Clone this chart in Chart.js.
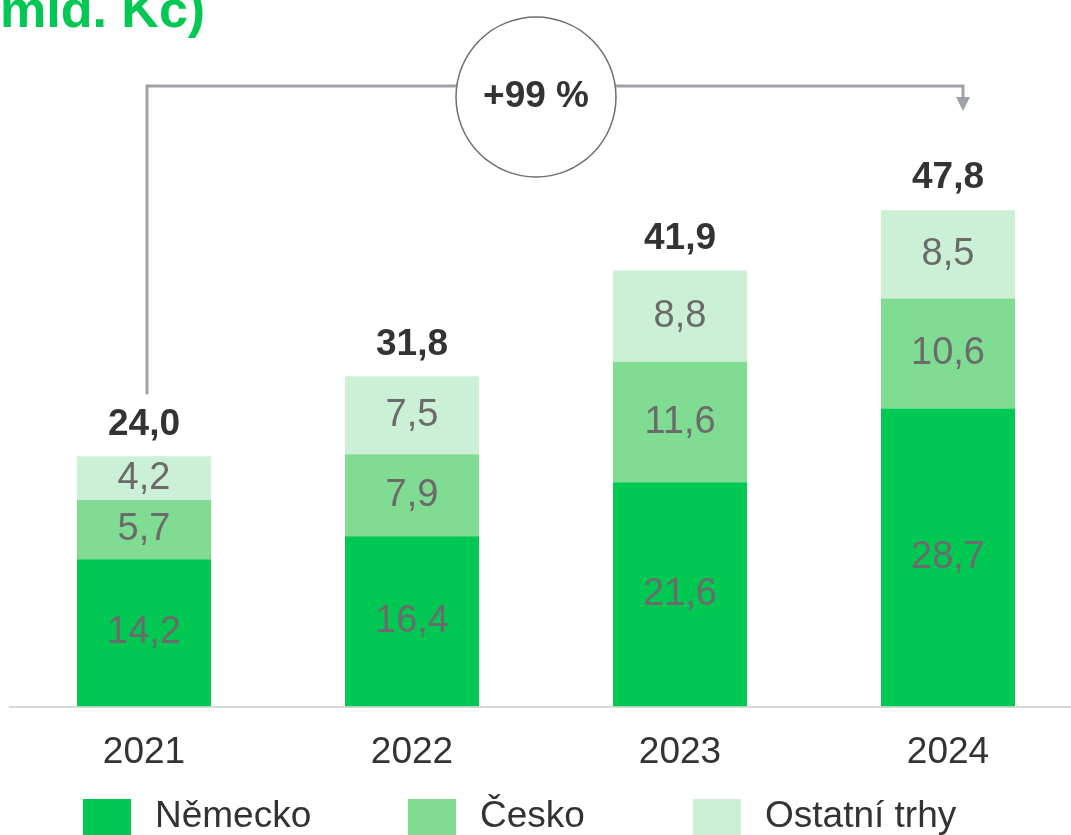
<!DOCTYPE html>
<html>
<head>
<meta charset="utf-8">
<script src="https://cdn.jsdelivr.net/npm/chart.js@4.4.1/dist/chart.umd.min.js"></script>
<style>
  html, body { margin: 0; padding: 0; width: 1071px; height: 835px; overflow: hidden; background: #fff; }
  #title { position: absolute; left: 0; top: -17px; font-family: "Liberation Sans", Arial, sans-serif; font-weight: bold; font-size: 52px; line-height: 52px; color: #00C853; white-space: nowrap; }
  #c { position: absolute; left: 0; top: 0; }
</style>
</head>
<body>
<div id="title">mld. Kc)</div>
<canvas id="c" width="1092" height="835"></canvas>
<script>
// ---- data ----
const categories = ["2021", "2022", "2023", "2024"];
const seriesNames = ["Německo", "Česko", "Ostatní trhy"];
const nemecko = [14.2, 16.4, 21.6, 28.7];
const cesko = [5.7, 7.9, 11.6, 10.6];
const ostatni = [4.2, 7.5, 8.8, 8.5];
const totals = [24.0, 31.8, 41.9, 47.8];
const growthLabel = "+99 %";

// ---- styles ----
const colors = ["#00C853", "#80DC93", "#CCF0D5"];
const FONT = '"Liberation Sans", Arial, sans-serif';
const legendX = [83, 408, 693];

const fmt = v => v.toFixed(1).replace('.', ',');

const labelsPlugin = {
  id: 'valueLabels',
  afterDatasetsDraw(chart) {
    const ctx = chart.ctx;
    ctx.save();
    ctx.textAlign = 'center';
    ctx.textBaseline = 'middle';
    chart.data.datasets.forEach((ds, di) => {
      const meta = chart.getDatasetMeta(di);
      meta.data.forEach((bar, i) => {
        const yMid = (bar.y + bar.base) / 2;
        ctx.font = '38px ' + FONT;
        ctx.fillStyle = '#6B6B6B';
        ctx.fillText(fmt(ds.data[i]), bar.x, yMid);
      });
    });
    const yS = chart.scales.y, xS = chart.scales.x;
    ctx.font = 'bold 37px ' + FONT;
    ctx.fillStyle = '#333333';
    totals.forEach((t, i) => {
      const sum = nemecko[i] + cesko[i] + ostatni[i];
      ctx.fillText(fmt(t), xS.getPixelForValue(i), yS.getPixelForValue(sum) - 32);
    });
    ctx.restore();
  }
};

const annotationPlugin = {
  id: 'growthArrow',
  afterDatasetsDraw(chart) {
    const ctx = chart.ctx;
    const xS = chart.scales.x, yS = chart.scales.y;
    const x0 = xS.getPixelForValue(0) + 3;
    const x1 = xS.getPixelForValue(categories.length - 1) + 15;
    const yStart = yS.getPixelForValue(nemecko[0] + cesko[0] + ostatni[0]) - 62;
    const yLine = 86;
    const yTip = 111;
    ctx.save();
    ctx.strokeStyle = '#9EA1A5';
    ctx.lineWidth = 3;
    ctx.beginPath();
    ctx.moveTo(x0, yStart);
    ctx.lineTo(x0, yLine);
    ctx.lineTo(x1, yLine);
    ctx.lineTo(x1, yTip - 12);
    ctx.stroke();
    ctx.fillStyle = '#9EA1A5';
    ctx.beginPath();
    ctx.moveTo(x1 - 7, yTip - 14);
    ctx.lineTo(x1 + 7, yTip - 14);
    ctx.lineTo(x1, yTip);
    ctx.closePath();
    ctx.fill();
    const cx = 536, cy = 97, r = 80;
    ctx.beginPath();
    ctx.arc(cx, cy, r, 0, Math.PI * 2);
    ctx.fillStyle = '#ffffff';
    ctx.fill();
    ctx.lineWidth = 1.5;
    ctx.strokeStyle = '#6E6E6E';
    ctx.stroke();
    ctx.font = 'bold 37px ' + FONT;
    ctx.fillStyle = '#333333';
    ctx.textAlign = 'center';
    ctx.textBaseline = 'middle';
    ctx.fillText(growthLabel, cx, cy);
    ctx.restore();
  }
};

const legendPlugin = {
  id: 'customLegend',
  afterDraw(chart) {
    const ctx = chart.ctx;
    ctx.save();
    chart.data.datasets.forEach((ds, i) => {
      const x = legendX[i];
      ctx.fillStyle = ds.backgroundColor;
      ctx.fillRect(x, 799, 48, 40);
      ctx.font = '37px ' + FONT;
      ctx.fillStyle = '#333333';
      ctx.textAlign = 'left';
      ctx.textBaseline = 'middle';
      ctx.fillText(ds.label, x + 72, 817);
    });
    ctx.restore();
  }
};

new Chart(document.getElementById('c'), {
  type: 'bar',
  data: {
    labels: categories,
    datasets: [
      { label: seriesNames[0], data: nemecko, backgroundColor: colors[0] },
      { label: seriesNames[1], data: cesko, backgroundColor: colors[1] },
      { label: seriesNames[2], data: ostatni, backgroundColor: colors[2] }
    ]
  },
  options: {
    responsive: false,
    animation: false,
    layout: { padding: { left: 10, right: 10, top: 83.5, bottom: 36 } },
    datasets: { bar: { barPercentage: 0.5, categoryPercentage: 1.0, borderWidth: 0 } },
    plugins: { legend: { display: false }, tooltip: { enabled: false } },
    scales: {
      x: {
        stacked: true,
        grid: { display: false, drawTicks: false },
        border: { display: true, color: '#D9D9D9', width: 2 },
        ticks: { color: '#333333', font: { family: FONT, size: 37 }, padding: 24 }
      },
      y: {
        stacked: true,
        display: false,
        min: 0,
        max: 60
      }
    }
  },
  plugins: [labelsPlugin, annotationPlugin, legendPlugin]
});
</script>
</body>
</html>
